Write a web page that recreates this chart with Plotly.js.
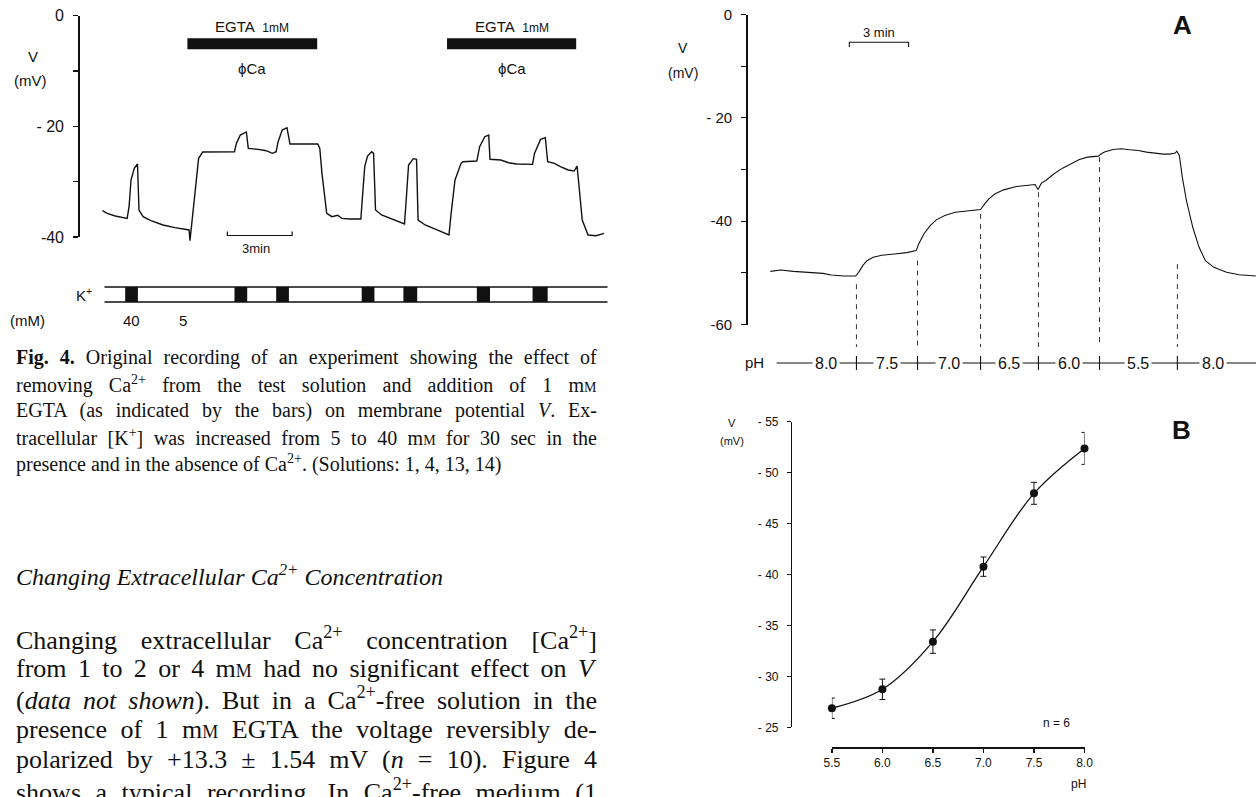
<!DOCTYPE html>
<html>
<head>
<meta charset="utf-8">
<script src="https://cdn.plot.ly/plotly-3.0.1.min.js"></script>
<style>
html,body{margin:0;padding:0;background:#fff;}
#chart{width:1256px;height:797px;}
</style>
</head>
<body>
<div id="chart"></div>
<script>
// ---------------- DATA ----------------
// Fig. 4: membrane potential recording (time in min, V in mV)
const fig4Time = [0,0.22,0.59,1.14,1.23,1.32,1.47,1.62,1.69,1.88,2.24,2.80,3.35,3.90,4.01,4.05,4.18,4.31,4.45,4.64,5.37,6.11,6.20,6.38,6.66,6.75,7.21,7.58,7.86,8.04,8.13,8.32,8.54,8.68,9.97,10.06,10.16,10.29,10.38,10.62,10.89,11.08,11.44,11.96,12.03,12.14,12.27,12.46,12.55,12.64,12.92,13.47,13.98,14.06,14.17,14.39,14.54,14.61,14.94,15.49,16.04,16.14,16.32,16.60,16.69,17.33,17.46,17.70,17.88,17.94,18.44,18.80,19.17,19.91,20.00,20.28,20.50,20.61,20.92,21.20,21.56,21.84,21.97,22.02,22.12,22.21,22.48,22.85,23.22];
const fig4V = [-35.24,-35.72,-36.20,-36.63,-34.52,-29.70,-27.59,-26.81,-35.12,-36.33,-37.05,-37.83,-38.31,-38.61,-38.73,-40.66,-35.72,-30.90,-25.78,-24.64,-24.58,-24.58,-23.07,-21.57,-21.02,-23.98,-24.16,-24.40,-24.88,-24.58,-22.77,-20.66,-20.24,-23.19,-23.19,-23.98,-28.49,-33.31,-35.72,-36.33,-36.08,-36.63,-36.75,-36.75,-33.31,-27.29,-25.36,-24.58,-24.88,-35.12,-36.02,-36.93,-37.65,-33.31,-26.99,-25.84,-25.96,-36.93,-37.83,-38.73,-39.64,-35.72,-29.70,-26.69,-26.39,-26.27,-23.67,-21.87,-21.57,-25.96,-26.08,-26.57,-26.81,-26.87,-24.88,-22.35,-22.05,-26.39,-26.69,-27.29,-27.89,-28.07,-27.17,-29.10,-33.31,-36.93,-39.64,-39.76,-39.34];
const egtaStart = [3.93, 15.95];
const egtaEnd = [9.94, 21.93];
const kHighStart = [1.05, 6.11, 8.04, 12.00, 13.93, 17.33, 19.91];
const kHighEnd = [1.64, 6.70, 8.63, 12.59, 14.57, 17.94, 20.61];
const fig4TickVals = [0, -20, -40];
const fig4TickText = ['0', '- 20', '-40'];

// Panel A: V during pH steps (time in min, V in mV)
const aTime = [0,0.53,1.17,2.02,2.66,3.09,3.72,4.32,4.47,4.68,4.89,5.21,5.64,6.28,6.91,7.38,7.51,7.77,8.09,8.40,8.83,9.36,9.89,10.32,10.64,10.85,11.06,11.38,11.81,12.45,13.09,13.40,13.55,13.72,13.94,14.36,14.79,15.21,15.64,16.06,16.60,16.70,16.91,17.34,17.77,18.19,18.62,19.04,19.47,19.89,20.21,20.49,20.57,20.70,20.85,21.06,21.38,21.70,22.02,22.45,23.09,23.72,24.57];
const aV = [-49.71,-49.45,-49.71,-49.90,-50.10,-50.42,-50.61,-50.61,-49.90,-48.61,-47.64,-47.00,-46.61,-46.35,-46.09,-45.70,-44.41,-42.47,-40.85,-39.75,-38.91,-38.27,-38.07,-37.94,-37.75,-36.65,-35.68,-34.71,-33.94,-33.29,-32.97,-32.90,-33.87,-32.64,-32.13,-30.83,-29.74,-28.89,-28.05,-27.60,-27.41,-27.08,-26.63,-26.12,-25.99,-26.18,-26.31,-26.63,-26.83,-27.02,-27.02,-26.83,-26.44,-27.28,-31.48,-36.01,-41.18,-45.06,-47.64,-48.93,-49.90,-50.36,-50.61];
const phChangeTime = [4.36, 7.45, 10.64, 13.57, 16.66, 20.60];
const phChangeTopV = [-52.2, -47.6, -38.6, -34.4, -27.6, -48.3];
const phLabels = ['8.0', '7.5', '7.0', '6.5', '6.0', '5.5', '8.0'];
const aTickVals = [0, -20, -40, -60];
const aTickText = ['0', '- 20', '-40', '-60'];

// Panel B: V vs pH (mean ± SE, n = 6)
const bPH = [5.5, 6.0, 6.5, 7.0, 7.5, 8.0];
const bV = [-26.87, -28.73, -33.41, -40.77, -47.97, -52.38];
const bErr = [1.00, 1.00, 1.15, 0.95, 1.08, 1.57];
const bYTickVals = [-55, -50, -45, -40, -35, -30, -25];
const bYTickText = ['- 55', '- 50', '- 45', '- 40', '- 35', '- 30', '- 25'];
const bXTickVals = [5.5, 6.0, 6.5, 7.0, 7.5, 8.0];
const bXTickText = ['5.5', '6.0', '6.5', '7.0', '7.5', '8.0'];

// Text
const captionLines = [
  '<b>Fig. 4.</b> Original recording of an experiment showing the effect of',
  'removing Ca<sup>2+</sup> from the test solution and addition of 1 m<span style="font-size:14px">M</span>',
  'EGTA (as indicated by the bars) on membrane potential <i>V</i>. Ex-',
  'tracellular [K<sup>+</sup>] was increased from 5 to 40 m<span style="font-size:14px">M</span> for 30 sec in the',
  'presence and in the absence of Ca<sup>2+</sup>. (Solutions: 1, 4, 13, 14)'
];
const headingText = '<i>Changing Extracellular Ca<sup>2+</sup> Concentration</i>';
const bodyLines = [
  'Changing extracellular Ca<sup>2+</sup> concentration [Ca<sup>2+</sup>]',
  'from 1 to 2 or 4 m<span style="font-size:18px">M</span> had no significant effect on <i>V</i>',
  '(<i>data not shown</i>). But in a Ca<sup>2+</sup>-free solution in the',
  'presence of 1 m<span style="font-size:18px">M</span> EGTA the voltage reversibly de-',
  'polarized by +13.3 ± 1.54 mV (<i>n</i> = 10). Figure 4',
  'shows a typical recording. In Ca<sup>2+</sup>-free medium (1'
];

// ---------------- GEOMETRY ----------------
const W = 1256, H = 797;
const fx = p => p / W;
const fy = p => 1 - p / H;
const v4 = px => -(px - 15.7) / 5.5325;   // Fig.4 pixel -> mV
const t4 = px => (px - 102.5) / 21.6;     // Fig.4 pixel -> min
const vA = px => -(px - 14.5) / 5.167;    // panel A pixel -> mV
const tA = px => (px - 770.3) / 19.76;    // panel A pixel -> min

const SANS = 'Liberation Sans, Arial, sans-serif';
const SERIF = 'Liberation Serif, Times New Roman, serif';
const INK = '#111';

// ---------------- TRACES ----------------
const traces = [];

// Fig.4 main recording
traces.push({type:'scatter', mode:'lines', x: fig4Time, y: fig4V, xaxis:'x', yaxis:'y4',
  line:{color:INK, width:1.4}, hoverinfo:'skip'});

// EGTA bars
(function(){
  const xs = [], ys = [];
  const yb = v4(43.8);
  egtaStart.forEach((s, i) => { xs.push(s, egtaEnd[i], null); ys.push(yb, yb, null); });
  traces.push({type:'scatter', mode:'lines', x: xs, y: ys, xaxis:'x', yaxis:'y',
    line:{color:INK, width:11}, hoverinfo:'skip'});
})();

// Fig.4 3-min scale bar
(function(){
  const s = 5.78, len = 3;
  traces.push({type:'scatter', mode:'lines', x:[s, s, s+len, s+len], y:[v4(231.5), v4(235.5), v4(235.5), v4(231.5)],
    xaxis:'x', yaxis:'y', line:{color:INK, width:1.2}, hoverinfo:'skip'});
})();

// K+ row lines
(function(){
  const x0 = t4(104.5), x1 = t4(607.5);
  traces.push({type:'scatter', mode:'lines', x:[x0, x1, null, x0, x1],
    y:[v4(287), v4(287), null, v4(302), v4(302)], xaxis:'x', yaxis:'y4',
    line:{color:INK, width:1.3}, hoverinfo:'skip'});
})();

// Panel A main recording
traces.push({type:'scatter', mode:'lines', x: aTime, y: aV, xaxis:'x2', yaxis:'y2',
  line:{color:INK, width:1.1}, hoverinfo:'skip'});

// Panel A 3-min scale bar
traces.push({type:'scatter', mode:'lines', x:[4.0, 4.0, 7.0, 7.0], y:[vA(47), vA(42.3), vA(42.3), vA(47)],
  xaxis:'x2', yaxis:'y2', line:{color:INK, width:1.1}, hoverinfo:'skip'});

// Panel A dashed markers of solution change
(function(){
  const xs = [], ys = [];
  phChangeTime.forEach((t, i) => { xs.push(t, t, null); ys.push(phChangeTopV[i], vA(347), null); });
  traces.push({type:'scatter', mode:'lines', x: xs, y: ys, xaxis:'x2', yaxis:'y3',
    line:{color:'#333', width:1, dash:'5px,5px'}, hoverinfo:'skip'});
})();

// pH row line and crossings
traces.push({type:'scatter', mode:'lines', x:[tA(776.6), tA(1256)], y:[vA(363), vA(363)],
  xaxis:'x2', yaxis:'y3', line:{color:INK, width:1.1}, hoverinfo:'skip'});
(function(){
  const xs = [], ys = [];
  phChangeTime.forEach(t => { xs.push(t, t, null); ys.push(vA(356), vA(370), null); });
  traces.push({type:'scatter', mode:'lines', x: xs, y: ys, xaxis:'x2', yaxis:'y3',
    line:{color:INK, width:1.1}, hoverinfo:'skip'});
})();

// Panel B
traces.push({type:'scatter', mode:'lines+markers', x: bPH, y: bV, xaxis:'x5', yaxis:'y5',
  line:{color:INK, width:1.3, shape:'spline', smoothing:1},
  marker:{color:INK, size:8},
  error_y:{type:'data', array: bErr, visible:true, color:INK, thickness:1, width:3},
  cliponaxis:false, hoverinfo:'skip'});

// ---------------- SHAPES ----------------
const shapes = kHighStart.map((s, i) => ({type:'rect', xref:'x', yref:'y4',
  x0: s, x1: kHighEnd[i], y0: v4(287), y1: v4(302), fillcolor: INK, line:{width:0}}));

// ---------------- ANNOTATIONS ----------------
const annotations = [];
function pText(text, xpx, ypx, size, extra) {
  const a = Object.assign({xref:'paper', yref:'paper', x: fx(xpx), y: fy(ypx), text: text, showarrow:false,
    xanchor:'center', yanchor:'middle', font:{family:SANS, size:size, color:INK}}, extra || {});
  annotations.push(a);
  return annotations.length - 1;
}
// Fig.4 labels
egtaStart.forEach((s, i) => {
  const c = (s + egtaEnd[i]) / 2;
  annotations.push({xref:'x', yref:'y', x:c, y:v4(26), showarrow:false, text:'EGTA  <span style="font-size:12px">1mM</span>',
    font:{family:SANS, size:15, color:INK}});
  annotations.push({xref:'x', yref:'y', x:c, y:v4(68), showarrow:false, text:'ϕCa',
    font:{family:SANS, size:15, color:INK}});
});
annotations.push({xref:'x', yref:'y4', x:7.1, y:v4(248), showarrow:false, text:'3min',
  font:{family:SANS, size:13, color:INK}});
pText('V', 33, 57, 15);
pText('(mV)', 30, 80, 15);
pText('K<sup>+</sup>', 84, 295, 15);
pText('(mM)', 28, 320, 15);
pText('40', 131, 320, 15);
pText('5', 183, 320, 15);

// Panel A labels
annotations.push({xref:'x2', yref:'y2', x:5.5, y:vA(32), showarrow:false, text:'3 min',
  font:{family:SANS, size:13, color:INK}});
pText('V', 683, 48, 14);
pText('(mV)', 683, 73, 14);
pText('<b>A</b>', 1182, 25, 26);
pText('pH', 754, 363, 15);
(function(){
  const bounds = [1.3].concat(phChangeTime).concat([24.2]);
  phLabels.forEach((lab, i) => {
    annotations.push({xref:'x2', yref:'y3', x:(bounds[i] + bounds[i+1]) / 2, y:vA(363), showarrow:false,
      text: lab, bgcolor:'#fff', borderpad:2, font:{family:SANS, size:16, color:INK}});
  });
})();

// Panel B labels
pText('V', 732, 423, 11);
pText('(mV)', 732, 441, 11);
pText('<b>B</b>', 1181, 430, 26);
pText('n = 6', 1056, 723, 12);
pText('pH', 1078, 784, 12);

// Caption, heading, body
const justify = [];
captionLines.forEach((line, i) => {
  const idx = pText(line, 14, 358 + 26.3 * i, 20, {xanchor:'left', align:'left', font:{family:SERIF, size:20, color:INK}});
  if (i < captionLines.length - 1) justify.push(idx);
});
pText(headingText, 14, 575, 24, {xanchor:'left', align:'left', font:{family:SERIF, size:24, color:INK}});
bodyLines.forEach((line, i) => {
  const idx = pText(line, 14, 638 + 30.4 * i, 26, {xanchor:'left', align:'left', font:{family:SERIF, size:26, color:INK}});
  justify.push(idx);
});

// ---------------- AXES ----------------
const hidden = {visible:false, showgrid:false, zeroline:false, fixedrange:true};
function shownY(extra) {
  return Object.assign({showline:true, linecolor:INK, linewidth:1.3, ticks:'outside', ticklen:5, tickwidth:1.3,
    tickcolor:INK, tickmode:'array', showgrid:false, zeroline:false, fixedrange:true, ticklabelstandoff:6,
    minor:{ticks:'outside', ticklen:5, tickwidth:1.3, tickcolor:INK, tick0:0, dtick:10, showgrid:false}}, extra);
}

const layout = {
  width: W, height: H,
  margin:{l:0, r:0, t:0, b:0},
  paper_bgcolor:'#fff', plot_bgcolor:'rgba(0,0,0,0)',
  showlegend:false, hovermode:false,
  font:{family:SANS, color:INK},
  // Fig. 4
  xaxis: Object.assign({}, hidden, {domain:[fx(79.5), fx(615)], range:[t4(79.5), t4(615)], anchor:'y'}),
  yaxis: shownY({domain:[fy(237), fy(15.7)], range:[-40, 0], anchor:'x',
    tickvals: fig4TickVals, ticktext: fig4TickText, tickfont:{family:SANS, size:16, color:INK}}),
  yaxis4: Object.assign({}, hidden, {domain:[fy(330), fy(15.7)], range:[v4(330), 0], anchor:'x'}),
  // Panel A
  xaxis2: Object.assign({}, hidden, {domain:[fx(747.5), fx(1256)], range:[tA(747.5), tA(1256)], anchor:'y2'}),
  yaxis2: shownY({domain:[fy(324.5), fy(14.5)], range:[-60, 0], anchor:'x2',
    tickvals: aTickVals, ticktext: aTickText, tickfont:{family:SANS, size:15, color:INK}}),
  yaxis3: Object.assign({}, hidden, {domain:[fy(380), fy(14.5)], range:[vA(380), 0], anchor:'x2'}),
  // Panel B
  xaxis5: {domain:[fx(831.9), fx(1084.5)], range:[5.5, 8.0], anchor:'free', position: fy(747.3),
    showline:true, linecolor:INK, linewidth:1.3, ticks:'outside', ticklen:4, tickwidth:1.2, tickcolor:INK,
    tickmode:'array', tickvals: bXTickVals, ticktext: bXTickText, tickfont:{family:SANS, size:12, color:INK},
    showgrid:false, zeroline:false, fixedrange:true, ticklabelstandoff:0},
  yaxis5: {domain:[fy(727.3), fy(421.7)], range:[-25, -55], anchor:'free', position: fx(790.9),
    showline:true, linecolor:INK, linewidth:1.2, ticks:'outside', ticklen:4, tickwidth:1.2, tickcolor:INK,
    tickmode:'array', tickvals: bYTickVals, ticktext: bYTickText, tickfont:{family:SANS, size:12, color:INK},
    showgrid:false, zeroline:false, fixedrange:true, ticklabelstandoff:6},
  shapes: shapes,
  annotations: annotations
};

const RIGHT_EDGE = 597;
Plotly.newPlot('chart', traces, layout, {staticPlot:true, displayModeBar:false}).then(function(gd){
  justify.forEach(function(idx){
    const t = gd.querySelector('.annotation[data-index="' + idx + '"] text.annotation-text');
    if (!t) return;
    const n = (t.textContent.match(/ /g) || []).length;
    if (!n) return;
    const r = t.getBoundingClientRect();
    const extra = (RIGHT_EDGE - r.left - r.width) / n;
    t.style.wordSpacing = extra.toFixed(2) + 'px';
  });
});
</script>
</body>
</html>
